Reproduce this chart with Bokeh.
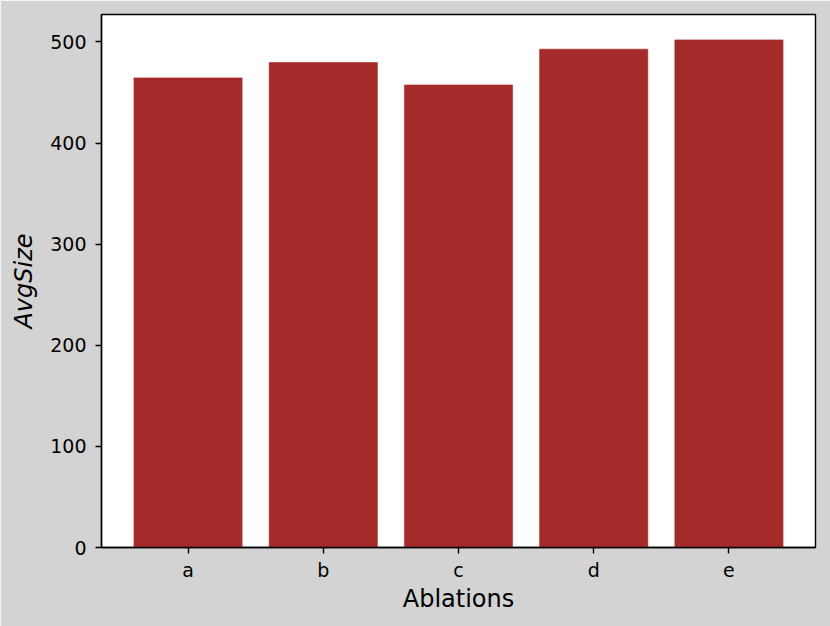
from bokeh.plotting import figure
from bokeh.models import FactorRange, Range1d, ColumnDataSource, FixedTicker
from bokeh.embed import file_html
from bokeh.resources import INLINE

categories = ["a", "b", "c", "d", "e"]
avg_size = [464.4, 479.6, 457.4, 492.8, 502.0]
y_ticks = [0, 100, 200, 300, 400, 500]

source = ColumnDataSource(data=dict(cat=categories, val=avg_size))

p = figure(
    x_range=FactorRange(factors=categories, range_padding=0.14, range_padding_units="absolute"),
    y_range=Range1d(0, max(avg_size) * 1.05),
    width=830, height=626,
    output_backend="svg", toolbar_location=None,
    min_border_left=101, min_border_right=15, min_border_top=14, min_border_bottom=79,
)

p.vbar(x="cat", top="val", width=0.8, source=source, fill_color="#A52A2A", line_color="#A52A2A", line_alpha=0.6)

p.background_fill_color = "white"
p.border_fill_color = "#D3D3D3"
p.outline_line_color = "black"
p.outline_line_width = 1.4
p.xgrid.visible = False
p.ygrid.visible = False

p.yaxis.ticker = FixedTicker(ticks=y_ticks)
for ax in (p.xaxis[0], p.yaxis[0]):
    ax.axis_line_color = "black"
    ax.axis_line_width = 1.4
    ax.major_tick_line_color = "black"
    ax.major_tick_line_width = 1.4
    ax.major_tick_out = 6
    ax.major_tick_in = 0
    ax.minor_tick_line_color = None
    ax.major_label_text_font = "DejaVu Sans"
    ax.major_label_text_font_size = "19px"
    ax.major_label_text_color = "black"
    ax.axis_label_text_font = "DejaVu Sans"
    ax.axis_label_text_font_size = "24px"
    ax.axis_label_text_color = "black"

p.xaxis.axis_label = "Ablations"
p.xaxis.axis_label_text_font_style = "normal"
p.xaxis.major_label_standoff = 5
p.xaxis.axis_label_standoff = 1

p.yaxis.axis_label = "AvgSize"
p.yaxis.axis_label_text_font_style = "italic"
p.yaxis.major_label_standoff = 9
p.yaxis.axis_label_standoff = 9

open("out.html", "w").write(file_html(p, INLINE))
